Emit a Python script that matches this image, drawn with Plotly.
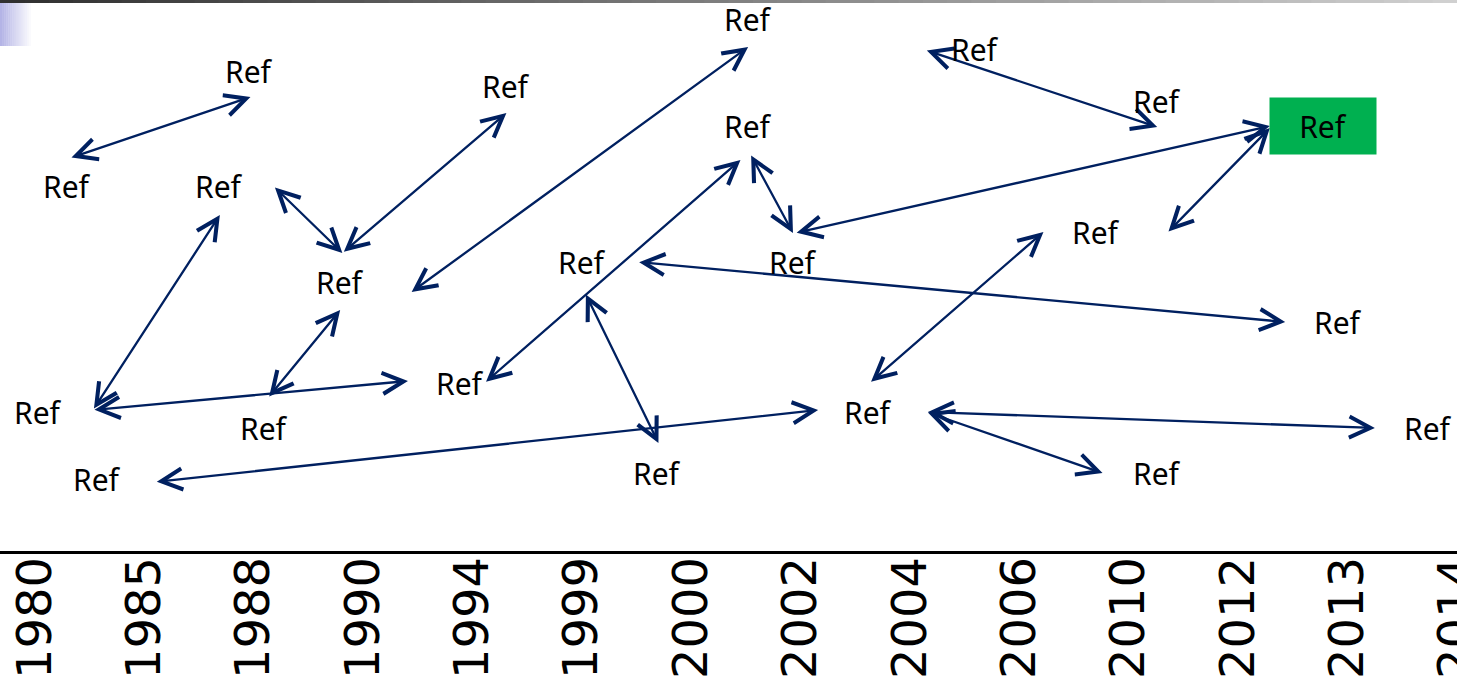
import plotly.graph_objects as go

# ---- data -------------------------------------------------------------
years = ["1980", "1985", "1988", "1990", "1994", "1999", "2000",
         "2002", "2004", "2006", "2010", "2012", "2013", "2014"]

# reference labels: position along the year axis (index units) and height
label_x = [1.96, 0.29, 1.68, 4.31, 6.52, 8.59, 10.26, 11.78, 6.52, 2.79, 5.00,
           6.93, 9.70, 11.91, 0.03, 2.09, 3.89, 7.62, 12.74, 0.57, 5.69, 10.26]
label_y = [48.0, 36.5, 36.5, 46.5, 53.2, 50.2, 45.0, 42.5, 42.5, 26.9, 28.9,
           28.9, 31.9, 22.9, 13.9, 12.3, 16.8, 13.9, 12.3, 7.2, 7.8, 7.8]
label_text = ["Ref"] * len(label_x)
highlighted = [7]  # index of the green-boxed label

# double-headed links: start (x0, y0) -> end (x1, y1)
link_x0 = [0.32, 0.53, 0.53, 2.13, 2.18, 2.81, 3.43, 4.11, 6.54, 6.95,
           5.03, 5.51, 8.14, 10.35, 7.63, 1.10, 8.15, 8.15]
link_y0 = [39.3, 14.1, 14.1, 15.3, 36.5, 29.8, 25.8, 16.8, 39.7, 31.8,
           25.8, 28.9, 50.1, 31.8, 16.8, 6.9, 13.9, 13.9]
link_x1 = [1.97, 1.69, 3.41, 2.79, 2.81, 4.31, 6.52, 6.45, 6.93, 11.29,
           5.70, 11.43, 10.26, 11.29, 9.22, 7.16, 12.25, 9.76]
link_y1 = [45.4, 33.6, 17.0, 24.1, 29.8, 43.8, 50.4, 39.1, 31.8, 42.5,
           10.8, 22.9, 42.4, 42.3, 31.9, 14.1, 12.3, 7.8]

# ---- styles -----------------------------------------------------------
W, H = 1457, 682
PLOT_H = 551
ARROW = "#002060"
FONT = "Noto Sans"

fig = go.Figure()
# invisible trace so the axes are drawn
fig.add_trace(go.Scatter(x=label_x, y=label_y, mode="markers",
                         marker=dict(opacity=0), hoverinfo="skip",
                         showlegend=False))

annotations = []
for x0, y0, x1, y1 in zip(link_x0, link_y0, link_x1, link_y1):
    annotations.append(dict(
        x=x1, y=y1, ax=x0, ay=y0, xref="x", yref="y", axref="x", ayref="y",
        text="", showarrow=True, arrowside="end+start", arrowhead=5,
        startarrowhead=5, arrowsize=1.8, startarrowsize=1.8, arrowwidth=2.3,
        arrowcolor=ARROW, standoff=0, startstandoff=0))

for i, (x, y, t) in enumerate(zip(label_x, label_y, label_text)):
    a = dict(x=x, y=y, xref="x", yref="y", text=t, showarrow=False,
             font=dict(family=FONT, size=30, color="black"),
             xanchor="center", yanchor="middle")
    if i in highlighted:
        a.update(bgcolor="#00b050", width=106, height=56, borderpad=0)
    annotations.append(a)

# decorative gradients (top bar and corner block)
shapes = []
N = 60
for k in range(N):
    f = k / (N - 1)
    g = int(0x30 + (0xd0 - 0x30) * f)
    shapes.append(dict(type="rect", xref="paper", yref="paper",
                       x0=k / N, x1=(k + 1) / N + 0.002,
                       y0=1 - 3 / PLOT_H, y1=1.0,
                       fillcolor=f"rgb({g},{g},{g})", line_width=0,
                       layer="above"))
M = 16
for k in range(M):
    f = k / (M - 1)
    r = int(0xb4 + (0xff - 0xb4) * f)
    gg = int(0xb4 + (0xff - 0xb4) * f)
    b = int(0xe6 + (0xff - 0xe6) * f)
    shapes.append(dict(type="rect", xref="paper", yref="paper",
                       x0=k * 33 / M / W, x1=(k + 1) * 33 / M / W + 0.0003,
                       y0=1 - 46 / PLOT_H, y1=1 - 3 / PLOT_H,
                       fillcolor=f"rgb({r},{gg},{b})", line_width=0,
                       layer="below"))

fig.update_layout(
    width=W, height=H, autosize=False,
    margin=dict(l=0, r=0, t=0, b=H - PLOT_H, pad=0, autoexpand=False),
    paper_bgcolor="white", plot_bgcolor="white",
    showlegend=False,
    annotations=annotations, shapes=shapes,
    xaxis=dict(range=[-0.32, 13.001], tickmode="array",
               tickvals=list(range(len(years))), ticktext=years,
               tickangle=-90, automargin=False, ticklabelstandoff=-16,
               tickfont=dict(family="DejaVu Sans", size=48, color="black"),
               ticklabeloverflow="allow",
               showline=True, linecolor="black", linewidth=2.5,
               showgrid=False, zeroline=False, ticks="", fixedrange=True),
    yaxis=dict(range=[0, 55.1], visible=False, showgrid=False,
               zeroline=False, fixedrange=True, automargin=False),
)

fig.write_html(
    "out.html",
    config={"responsive": False, "displayModeBar": False},
    default_width="1457px", default_height="682px",
    post_script="document.body.style.margin='0';"
                "document.body.style.overflow='hidden';",
)
